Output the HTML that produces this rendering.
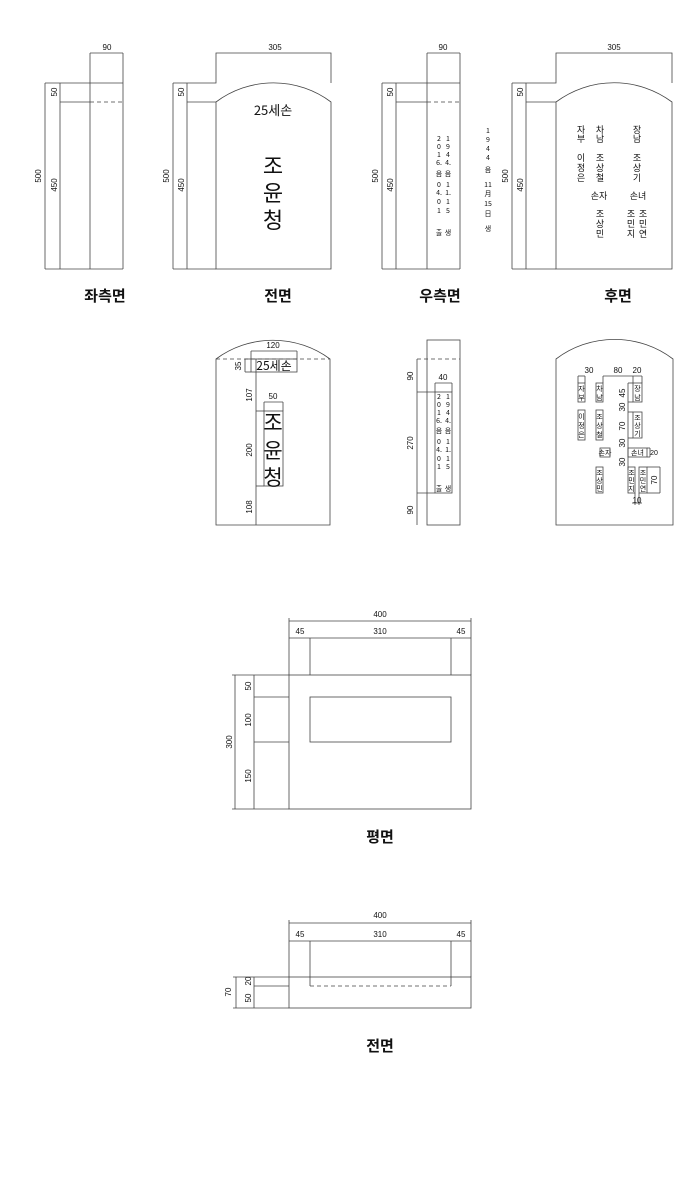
<!DOCTYPE html>
<html><head><meta charset="utf-8"><style>
html,body{margin:0;padding:0;background:#fff}
svg{display:block}
text{font-family:"Liberation Sans","Noto Sans CJK KR",sans-serif;fill:#111}
.k{font-family:"Noto Sans CJK KR","NanumGothic",sans-serif}
.t{font-weight:bold}
</style></head><body>
<svg width="700" height="1200" viewBox="0 0 700 1200" xmlns="http://www.w3.org/2000/svg">
<g stroke="#444" stroke-width="0.8" fill="none">
<line x1="45" y1="83" x2="45" y2="269"/><line x1="60" y1="83" x2="60" y2="269"/>
<line x1="90" y1="53" x2="90" y2="269"/><line x1="123" y1="53" x2="123" y2="269"/>
<line x1="45" y1="83" x2="123" y2="83"/><line x1="60" y1="102" x2="90" y2="102"/>
<line x1="90" y1="102" x2="123" y2="102" stroke-dasharray="4,3"/>
<line x1="45" y1="269" x2="123" y2="269"/><line x1="90" y1="53" x2="123" y2="53"/>
<line x1="173" y1="83" x2="173" y2="269"/><line x1="187" y1="83" x2="187" y2="269"/>
<polyline points="173,83 216,83 216,53 331,53 331,83"/>
<line x1="187" y1="102" x2="216" y2="102"/>
<path d="M216,269 L216,102 A96 96 0 0 1 331,102 L331,269 Z"/>
<line x1="173" y1="269" x2="216" y2="269"/>
<line x1="382" y1="83" x2="382" y2="269"/><line x1="396" y1="83" x2="396" y2="269"/>
<line x1="427" y1="53" x2="427" y2="269"/><line x1="460" y1="53" x2="460" y2="269"/>
<line x1="382" y1="83" x2="460" y2="83"/><line x1="396" y1="102" x2="427" y2="102"/>
<line x1="427" y1="102" x2="460" y2="102" stroke-dasharray="4,3"/>
<line x1="382" y1="269" x2="460" y2="269"/><line x1="427" y1="53" x2="460" y2="53"/>
<line x1="512" y1="83" x2="512" y2="269"/><line x1="526" y1="83" x2="526" y2="269"/>
<polyline points="512,83 556,83 556,53 672,53 672,83"/>
<line x1="526" y1="102" x2="556" y2="102"/>
<path d="M556,269 L556,102 A97 97 0 0 1 672,102 L672,269 Z"/>
<line x1="512" y1="269" x2="556" y2="269"/>
<path d="M216,525 L216,359 A96 96 0 0 1 330,359 L330,525 Z"/>
<line x1="216" y1="359" x2="330" y2="359" stroke-dasharray="4,3"/>
<rect x="251" y="359" width="46" height="13"/>
<line x1="251" y1="351" x2="297" y2="351"/><line x1="251" y1="351" x2="251" y2="359"/><line x1="297" y1="351" x2="297" y2="359"/>
<line x1="256" y1="359" x2="256" y2="525"/>
<line x1="245" y1="359" x2="251" y2="359"/><line x1="245" y1="359" x2="245" y2="372"/><line x1="245" y1="372" x2="251" y2="372"/>
<rect x="264" y="411" width="19" height="75"/>
<line x1="264" y1="402" x2="283" y2="402"/><line x1="264" y1="402" x2="264" y2="411"/><line x1="283" y1="402" x2="283" y2="411"/>
<line x1="256" y1="411" x2="264" y2="411"/><line x1="256" y1="486" x2="264" y2="486"/>
<rect x="427" y="340" width="33" height="185"/>
<line x1="417" y1="359" x2="460" y2="359" stroke-dasharray="4,3"/>
<line x1="417" y1="359" x2="417" y2="525"/>
<rect x="435" y="392" width="17" height="101"/>
<line x1="417" y1="392" x2="435" y2="392"/><line x1="417" y1="493" x2="435" y2="493"/>
<line x1="435" y1="383" x2="452" y2="383"/><line x1="435" y1="383" x2="435" y2="392"/><line x1="452" y1="383" x2="452" y2="392"/>
<path d="M556,525 L556,359 A97 97 0 0 1 673,359 L673,525 Z"/>
<line x1="578" y1="376" x2="585" y2="376"/><line x1="603" y1="376" x2="642" y2="376"/>
<line x1="578" y1="376" x2="578" y2="383"/><line x1="585" y1="376" x2="585" y2="383"/>
<line x1="603" y1="376" x2="603" y2="383"/><line x1="633" y1="376" x2="633" y2="383"/><line x1="642" y1="376" x2="642" y2="383"/>
<rect x="578" y="383" width="7" height="19"/><rect x="596" y="383" width="7" height="19"/><rect x="633" y="383" width="9" height="19"/>
<rect x="578" y="410" width="7" height="30"/><rect x="596" y="410" width="7" height="30"/><rect x="633" y="412" width="9" height="26"/>
<line x1="628" y1="383" x2="628" y2="470"/>
<line x1="628" y1="383" x2="633" y2="383"/><line x1="628" y1="402" x2="633" y2="402"/><line x1="628" y1="412" x2="633" y2="412"/><line x1="628" y1="438" x2="633" y2="438"/>
<rect x="600" y="448" width="10" height="9"/><rect x="628" y="448" width="19" height="9"/>
<line x1="647" y1="448" x2="650" y2="448"/><line x1="647" y1="457" x2="650" y2="457"/><line x1="650" y1="448" x2="650" y2="457"/>
<rect x="596" y="467" width="7" height="26"/><rect x="628" y="467" width="7" height="26"/><rect x="639" y="467" width="8" height="26"/>
<line x1="647" y1="467" x2="660" y2="467"/><line x1="647" y1="493" x2="660" y2="493"/><line x1="660" y1="467" x2="660" y2="493"/>
<line x1="635" y1="493" x2="635" y2="505"/><line x1="639" y1="493" x2="639" y2="505"/><line x1="632" y1="503" x2="642" y2="503"/>
<line x1="289" y1="621" x2="471" y2="621"/><line x1="289" y1="638" x2="471" y2="638"/>
<line x1="289" y1="618" x2="289" y2="675"/><line x1="471" y1="618" x2="471" y2="675"/>
<line x1="310" y1="638" x2="310" y2="675"/><line x1="451" y1="638" x2="451" y2="675"/>
<rect x="289" y="675" width="182" height="134"/><rect x="310" y="697" width="141" height="45"/>
<line x1="235" y1="675" x2="235" y2="809"/><line x1="254" y1="675" x2="254" y2="809"/>
<line x1="232" y1="675" x2="289" y2="675"/><line x1="254" y1="697" x2="289" y2="697"/><line x1="254" y1="742" x2="289" y2="742"/><line x1="232" y1="809" x2="289" y2="809"/>
<line x1="289" y1="923" x2="471" y2="923"/><line x1="289" y1="941" x2="471" y2="941"/>
<line x1="289" y1="920" x2="289" y2="977"/><line x1="471" y1="920" x2="471" y2="977"/>
<line x1="310" y1="941" x2="310" y2="986"/><line x1="451" y1="941" x2="451" y2="986"/>
<rect x="289" y="977" width="182" height="31"/>
<line x1="310" y1="986" x2="451" y2="986" stroke-dasharray="4,3"/>
<line x1="236" y1="977" x2="236" y2="1008"/><line x1="254" y1="977" x2="254" y2="1008"/>
<line x1="233" y1="977" x2="289" y2="977"/><line x1="254" y1="986" x2="289" y2="986"/><line x1="233" y1="1008" x2="289" y2="1008"/>
</g>
<g font-size="8">
<text x="107" y="50" text-anchor="middle">90</text>
<text x="275" y="50" text-anchor="middle">305</text>
<text x="443" y="50" text-anchor="middle">90</text>
<text x="614" y="50" text-anchor="middle">305</text>
<text transform="translate(41,176) rotate(-90)" text-anchor="middle">500</text>
<text transform="translate(57,92) rotate(-90)" text-anchor="middle">50</text>
<text transform="translate(57,185) rotate(-90)" text-anchor="middle">450</text>
<text transform="translate(169,176) rotate(-90)" text-anchor="middle">500</text>
<text transform="translate(184,92) rotate(-90)" text-anchor="middle">50</text>
<text transform="translate(184,185) rotate(-90)" text-anchor="middle">450</text>
<text transform="translate(378,176) rotate(-90)" text-anchor="middle">500</text>
<text transform="translate(393,92) rotate(-90)" text-anchor="middle">50</text>
<text transform="translate(393,185) rotate(-90)" text-anchor="middle">450</text>
<text transform="translate(508,176) rotate(-90)" text-anchor="middle">500</text>
<text transform="translate(523,92) rotate(-90)" text-anchor="middle">50</text>
<text transform="translate(523,185) rotate(-90)" text-anchor="middle">450</text>
<text x="273" y="348" text-anchor="middle">120</text>
<text x="273" y="399" text-anchor="middle">50</text>
<text transform="translate(241,366) rotate(-90)" text-anchor="middle">35</text>
<text transform="translate(252,395) rotate(-90)" text-anchor="middle">107</text>
<text transform="translate(252,450) rotate(-90)" text-anchor="middle">200</text>
<text transform="translate(252,507) rotate(-90)" text-anchor="middle">108</text>
<text x="443" y="380" text-anchor="middle">40</text>
<text transform="translate(413,376) rotate(-90)" text-anchor="middle">90</text>
<text transform="translate(413,443) rotate(-90)" text-anchor="middle">270</text>
<text transform="translate(413,510) rotate(-90)" text-anchor="middle">90</text>
<text x="589" y="373" text-anchor="middle">30</text>
<text x="618" y="373" text-anchor="middle">80</text>
<text x="637" y="373" text-anchor="middle">20</text>
<text transform="translate(625,393) rotate(-90)" text-anchor="middle">45</text>
<text transform="translate(625,407) rotate(-90)" text-anchor="middle">30</text>
<text transform="translate(625,426) rotate(-90)" text-anchor="middle">70</text>
<text transform="translate(625,443) rotate(-90)" text-anchor="middle">30</text>
<text transform="translate(625,462) rotate(-90)" text-anchor="middle">30</text>
<text x="654" y="455" text-anchor="middle" font-size="7">20</text>
<text transform="translate(657,480) rotate(-90)" text-anchor="middle">70</text>
<text x="637" y="503" text-anchor="middle">10</text>
<text x="380" y="617" text-anchor="middle">400</text>
<text x="300" y="634" text-anchor="middle">45</text>
<text x="380" y="634" text-anchor="middle">310</text>
<text x="461" y="634" text-anchor="middle">45</text>
<text transform="translate(232,742) rotate(-90)" text-anchor="middle">300</text>
<text transform="translate(251,686) rotate(-90)" text-anchor="middle">50</text>
<text transform="translate(251,720) rotate(-90)" text-anchor="middle">100</text>
<text transform="translate(251,776) rotate(-90)" text-anchor="middle">150</text>
<text x="380" y="918" text-anchor="middle">400</text>
<text x="300" y="937" text-anchor="middle">45</text>
<text x="380" y="937" text-anchor="middle">310</text>
<text x="461" y="937" text-anchor="middle">45</text>
<text transform="translate(231,992) rotate(-90)" text-anchor="middle">70</text>
<text transform="translate(251,981) rotate(-90)" text-anchor="middle">20</text>
<text transform="translate(251,998) rotate(-90)" text-anchor="middle">50</text>
</g>
<g class="k" text-anchor="middle">
<text class="k t" x="105" y="301" font-size="15">좌측면</text>
<text class="k t" x="278" y="301" font-size="15">전면</text>
<text class="k t" x="440" y="301" font-size="15">우측면</text>
<text class="k t" x="618" y="301" font-size="15">후면</text>
<text class="k t" x="380" y="842" font-size="15">평면</text>
<text class="k t" x="380" y="1051" font-size="15">전면</text>
<text class="k" x="273" y="115" font-size="13">25세손</text>
<text class="k" x="273" y="174" font-size="22">조</text>
<text class="k" x="273" y="201" font-size="22">윤</text>
<text class="k" x="273" y="228" font-size="22">청</text>
<text class="k" x="274" y="370" font-size="12">25세손</text>
<text class="k" x="273" y="430" font-size="21">조</text>
<text class="k" x="273" y="458" font-size="21">윤</text>
<text class="k" x="273" y="485" font-size="21">청</text>
</g>
<g class="k" font-size="7" text-anchor="middle">
<text class="k" x="439" y="141">2</text><text class="k" x="439" y="149">0</text><text class="k" x="439" y="157">1</text><text class="k" x="439" y="165">6.</text><text class="k" x="439" y="176">음</text><text class="k" x="439" y="187">0</text><text class="k" x="439" y="195">4.</text><text class="k" x="439" y="204">0</text><text class="k" x="439" y="213">1</text><text class="k" x="439" y="235">출</text>
<text class="k" x="448" y="141">1</text><text class="k" x="448" y="149">9</text><text class="k" x="448" y="157">4</text><text class="k" x="448" y="165">4.</text><text class="k" x="448" y="176">음</text><text class="k" x="448" y="187">1</text><text class="k" x="448" y="195">1.</text><text class="k" x="448" y="204">1</text><text class="k" x="448" y="213">5</text><text class="k" x="448" y="235">생</text>
<text class="k" x="488" y="133">1</text><text class="k" x="488" y="142">9</text><text class="k" x="488" y="151">4</text><text class="k" x="488" y="160">4</text><text class="k" x="488" y="172">음</text><text class="k" x="488" y="187">11</text><text class="k" x="488" y="196">月</text><text class="k" x="488" y="206">15</text><text class="k" x="488" y="216">日</text><text class="k" x="488" y="231">생</text>
<text class="k" x="439" y="399">2</text><text class="k" x="439" y="407">0</text><text class="k" x="439" y="415">1</text><text class="k" x="439" y="423">6.</text><text class="k" x="439" y="433">음</text><text class="k" x="439" y="444">0</text><text class="k" x="439" y="452">4.</text><text class="k" x="439" y="461">0</text><text class="k" x="439" y="469">1</text><text class="k" x="439" y="491">출</text>
<text class="k" x="448" y="399">1</text><text class="k" x="448" y="407">9</text><text class="k" x="448" y="415">4</text><text class="k" x="448" y="423">4.</text><text class="k" x="448" y="433">음</text><text class="k" x="448" y="444">1</text><text class="k" x="448" y="452">1.</text><text class="k" x="448" y="461">1</text><text class="k" x="448" y="469">5</text><text class="k" x="448" y="491">생</text>
</g>
<g class="k" font-size="9" text-anchor="middle">
<text class="k" x="581" y="133">자</text><text class="k" x="581" y="142">부</text>
<text class="k" x="600" y="133">차</text><text class="k" x="600" y="142">남</text>
<text class="k" x="637" y="133">장</text><text class="k" x="637" y="142">남</text>
<text class="k" x="581" y="161">이</text><text class="k" x="581" y="171">정</text><text class="k" x="581" y="181">은</text>
<text class="k" x="600" y="161">조</text><text class="k" x="600" y="171">상</text><text class="k" x="600" y="181">철</text>
<text class="k" x="637" y="161">조</text><text class="k" x="637" y="171">상</text><text class="k" x="637" y="181">기</text>
<text class="k" x="599" y="199">손자</text><text class="k" x="638" y="199">손녀</text>
<text class="k" x="600" y="217">조</text><text class="k" x="600" y="227">상</text><text class="k" x="600" y="237">민</text>
<text class="k" x="631" y="217">조</text><text class="k" x="631" y="227">민</text><text class="k" x="631" y="237">지</text>
<text class="k" x="643" y="217">조</text><text class="k" x="643" y="227">민</text><text class="k" x="643" y="237">연</text>
</g>
<g class="k" font-size="7" text-anchor="middle">
<text class="k" x="581.5" y="391">자</text><text class="k" x="581.5" y="400">부</text>
<text class="k" x="599.5" y="391">차</text><text class="k" x="599.5" y="400">남</text>
<text class="k" x="637.5" y="391">장</text><text class="k" x="637.5" y="400">남</text>
<text class="k" x="581.5" y="419">이</text><text class="k" x="581.5" y="428">정</text><text class="k" x="581.5" y="437">은</text>
<text class="k" x="599.5" y="419">조</text><text class="k" x="599.5" y="428">상</text><text class="k" x="599.5" y="437">철</text>
<text class="k" x="637.5" y="420">조</text><text class="k" x="637.5" y="428">상</text><text class="k" x="637.5" y="436">기</text>
<text class="k" x="605" y="455">손자</text><text class="k" x="637.5" y="455">손녀</text>
<text class="k" x="599.5" y="475">조</text><text class="k" x="599.5" y="483">상</text><text class="k" x="599.5" y="491">민</text>
<text class="k" x="631.5" y="475">조</text><text class="k" x="631.5" y="483">민</text><text class="k" x="631.5" y="491">지</text>
<text class="k" x="643" y="475">조</text><text class="k" x="643" y="483">민</text><text class="k" x="643" y="491">연</text>
</g>
</svg>
</body></html>
